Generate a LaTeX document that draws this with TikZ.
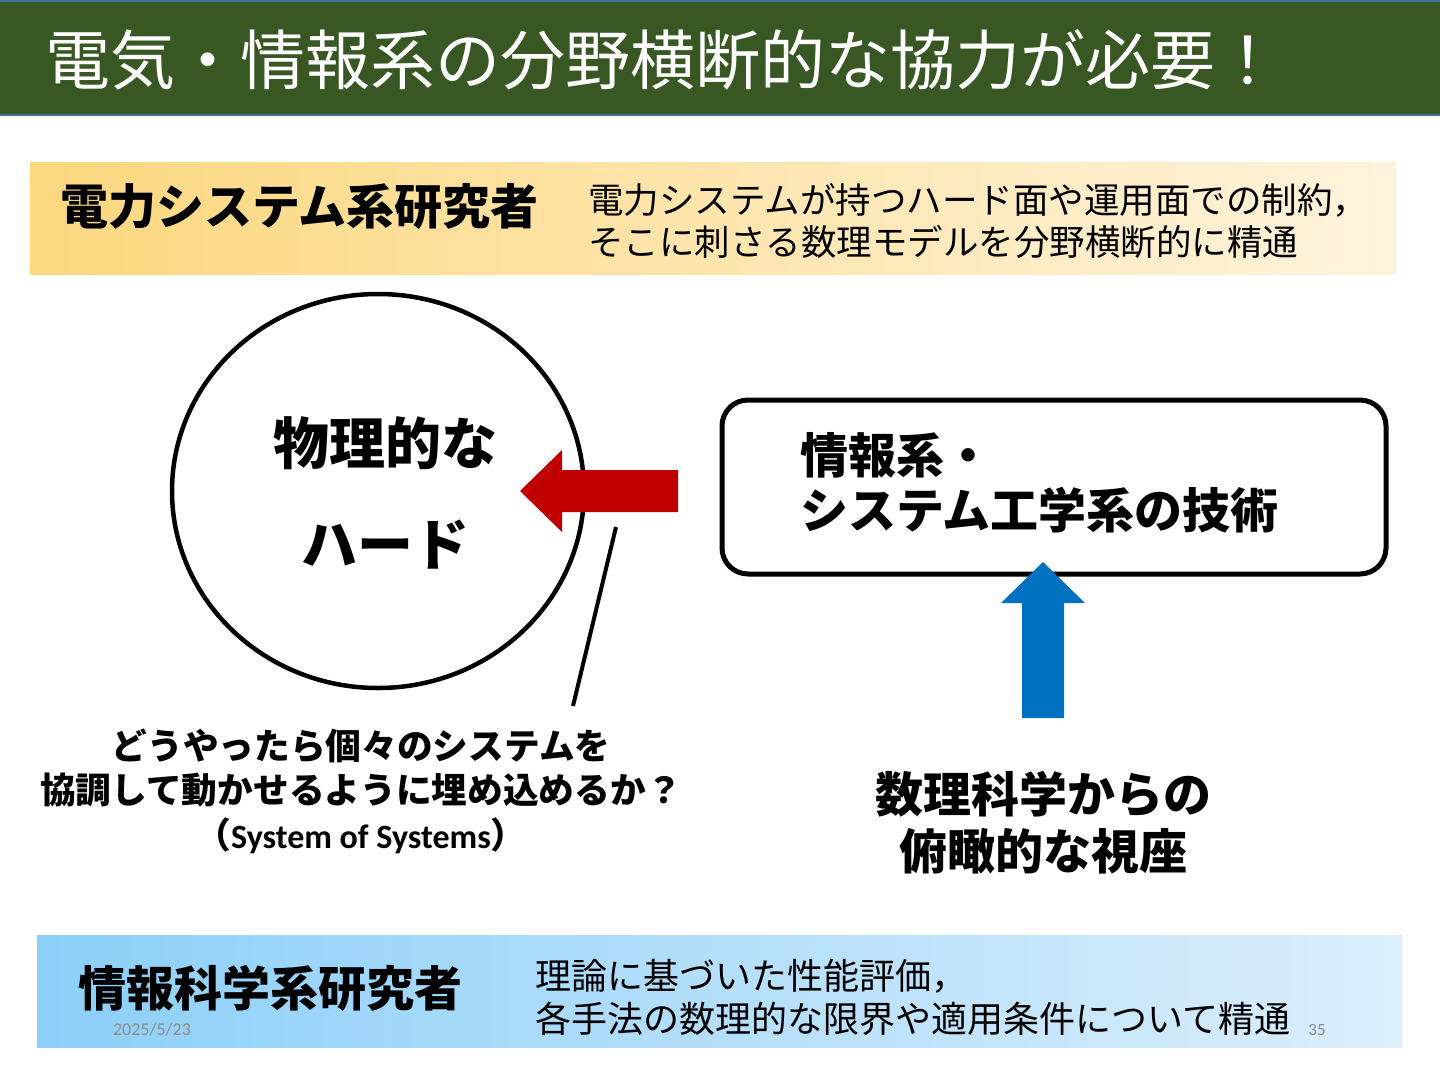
\documentclass[tikz,border=0pt]{standalone}
\usepackage{fontspec}
\newfontfamily\jp{Noto Sans CJK JP}
\newfontfamily\lat{Carlito}
\usetikzlibrary{shapes.geometric}

\definecolor{barGreen}{HTML}{385723}
\definecolor{barEdge}{HTML}{41719C}
\definecolor{powerL}{HTML}{FBD77E}
\definecolor{powerR}{HTML}{FFF3DD}
\definecolor{infoL}{HTML}{8CCFF8}
\definecolor{infoR}{HTML}{DCEEFC}
\definecolor{pushRed}{HTML}{C00000}
\definecolor{liftBlue}{HTML}{0070C0}

\begin{document}
\begin{tikzpicture}[
  x=1pt, y=-1pt,
  txt/.style={inner sep=0pt, font=\jp, align=left},
  bold/.style={txt, font=\jp\bfseries},
  outline/.style={draw=black, line width=4.5pt},
  band/.style={draw=none, shading angle=90}
]
\useasboundingbox (0,0) rectangle (1440,1080);

% title bar
\fill[barGreen] (0,0) rectangle (1440,116);
\draw[barEdge, line width=2pt] (0,1) -- (1440,1) (0,115) -- (1440,115);
\node[txt, anchor=west, text=white, font=\jp\fontsize{65}{78}\selectfont] (title) at (45,60)
  {電気・情報系の分野横断的な協力が必要！};

% researcher bands
\shade[left color=powerL, right color=powerR] (30,162) rectangle (1396,274);
\node[bold, anchor=west, font=\jp\bfseries\fontsize{48}{58}\selectfont] (power) at (60,206) {電力システム系研究者};
\node[txt, anchor=west, font=\jp\fontsize{35.5}{42}\selectfont] (powerNote) at (588,221)
  {電力システムが持つハード面や運用面での制約，\\そこに刺さる数理モデルを分野横断的に精通};

\shade[left color=infoL, right color=infoR] (37,935) rectangle (1402,1047);
\node[bold, anchor=west, font=\jp\bfseries\fontsize{48}{58}\selectfont] (info) at (78,988) {情報科学系研究者};
\node[txt, anchor=west, font=\jp\fontsize{36}{43}\selectfont] (infoNote) at (535,997)
  {理論に基づいた性能評価，\\各手法の数理的な限界や適用条件について精通};
\node[txt, text=black!45, font=\lat\fontsize{18}{20}\selectfont] (date) at (152,1030) {2025/5/23};
\node[txt, text=black!45, font=\lat\fontsize{17}{20}\selectfont] (page) at (1317,1030) {35};

% physical hardware
\node[outline, ellipse, minimum width=412pt, minimum height=394pt, inner sep=0pt] (hard) at (378,491) {};
\node[bold, font=\jp\bfseries\fontsize{56}{66}\selectfont] (hardA) at (385,443) {物理的な};
\node[bold, font=\jp\bfseries\fontsize{56}{66}\selectfont] (hardB) at (385,545) {ハード};

% information / system engineering
\node[draw=black, line width=5pt, rounded corners=26pt, minimum width=664pt, minimum height=174pt] (tech) at (1054,487) {};
\node[bold, anchor=west, font=\jp\bfseries\fontsize{48}{55}\selectfont] (techTxt) at (800,483)
  {情報系・\\システム工学系の技術};

% block arrows
\fill[pushRed] (678,470) -- (562,470) -- (562,450) -- (520,491) -- (562,532) -- (562,512) -- (678,512) -- cycle;
\fill[liftBlue] (1022,718) -- (1022,603) -- (1001,603) -- (1043,562) -- (1085,603) -- (1064,603) -- (1064,718) -- cycle;

% questions
\coordinate (pinTop) at (616,527);
\coordinate (pinEnd) at (573,706);
\draw[black, line width=4pt] (pinTop) -- (pinEnd);
\node[bold, align=center, font=\jp\bfseries\fontsize{35.7}{44.5}\selectfont] (sos) at (361,791)
  {どうやったら個々のシステムを\\協調して動かせるように埋め込めるか？\\（{\lat\bfseries\fontsize{34}{44.5}\selectfont System of Systems}）};
\node[bold, align=center, font=\jp\bfseries\fontsize{48}{57}\selectfont] (view) at (1043,823)
  {数理科学からの\\俯瞰的な視座};

\end{tikzpicture}
\end{document}
